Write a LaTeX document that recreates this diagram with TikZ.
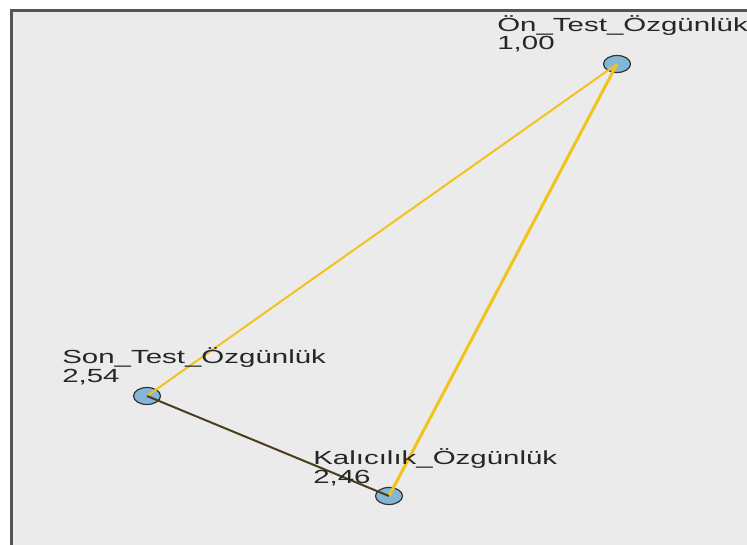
\documentclass[tikz,border=0pt]{standalone}
\usepackage{fontspec}
\setmainfont{Liberation Sans}

\definecolor{panelgray}{HTML}{EBEBEB}
\definecolor{framegray}{HTML}{555555}
\definecolor{pointblue}{HTML}{84B6D8}
\definecolor{linkyellow}{HTML}{F2C31C}
\definecolor{linkdark}{HTML}{4A3F1C}

\tikzset{
  point/.style={ellipse, draw=black!80, fill=pointblue, line width=1.2pt,
    minimum width=27pt, minimum height=17pt, inner sep=0pt},
  pointlabel/.style={anchor=base west, inner sep=0pt, align=left,
    font=\fontsize{19}{17}\selectfont, text=black!85,
    xscale=1.55, transform shape},
}
\usetikzlibrary{shapes.geometric}

\begin{document}
\begin{tikzpicture}[x=1pt,y=-1pt]
    \useasboundingbox (0,0) rectangle (747,545);
    \fill [white] (0,0) rectangle (747,545);

    % plot panel with its frame on top and left
    \fill [panelgray] (11,10) rectangle (747,545);
    \draw [framegray,line width=3pt] (747,10.5) -- (11.5,10.5) -- (11.5,545);

    \node [point] (on) at (617,64) {};
    \node [point] (son) at (147,396) {};
    \node [point] (kal) at (389,496) {};

    \draw [linkyellow,line width=2pt] (son.center) -- (on.center);
    \draw [linkyellow,line width=3pt] (kal.center) -- (on.center);
    \draw [linkdark,line width=2pt] (son.center) -- (kal.center);

    % base west sits on the last line
    \node [pointlabel] (onlabel) at (497,50) {Ön\_Test\_Özgünlük\\1,00};
    \node [pointlabel] (sonlabel) at (62,382) {Son\_Test\_Özgünlük\\2,54};
    \node [pointlabel] (kallabel) at (313,483) {Kalıcılık\_Özgünlük\\2,46};
\end{tikzpicture}
\end{document}
